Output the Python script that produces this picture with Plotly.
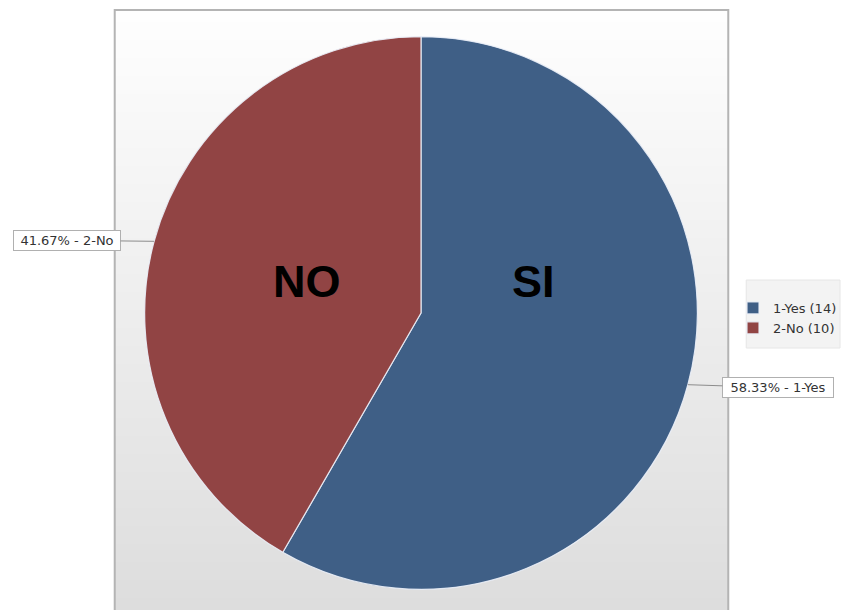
import numpy as np
import plotly.graph_objects as go

# ---- data ----
categories = ["1-Yes", "2-No"]
counts = [14, 10]
inside_text = ["SI", "NO"]
colors = ["#3f5f86", "#914444"]

total = sum(counts)
pcts = [100.0 * v / total for v in counts]
legend_labels = [f"{c} ({v})" for c, v in zip(categories, counts)]

# ---- geometry (pixels) ----
W, H = 842, 610
CX, CY, R = 422, 313, 277
FRAME = (115, 10, 730, 610)

def px_to_paper(x, y):
    return x / W, 1 - y / H

fig = go.Figure()
fig.add_trace(go.Pie(
    labels=legend_labels,
    values=counts,
    sort=False,
    direction="clockwise",
    rotation=0,
    marker=dict(colors=colors, line=dict(color="rgba(235,240,248,0.9)", width=1.2)),
    textinfo="none",
    hoverinfo="label+percent",
    domain=dict(x=[(CX - R) / W, (CX + R) / W], y=[1 - (CY + R) / H, 1 - (CY - R) / H]),
))

shapes = []
# gradient background of frame
x0, y0, x1, y1 = FRAME
nb = 100
for i in range(nb):
    t = i / (nb - 1)
    g = int(round(254 - (254 - 221) * t))
    ya = y0 + (y1 - y0) * i / nb
    yb = y0 + (y1 - y0) * (i + 1) / nb
    shapes.append(dict(type="rect", xref="paper", yref="paper", layer="below",
                       x0=x0 / W, x1=x1 / W, y0=max(0, 1 - yb / H), y1=1 - ya / H,
                       fillcolor=f"rgb({g},{g},{g})", line=dict(width=0)))
shapes.append(dict(type="rect", xref="paper", yref="paper", layer="below",
                   x0=x0 / W, x1=x1 / W, y0=-0.01, y1=1 - y0 / H,
                   fillcolor="rgba(0,0,0,0)", line=dict(color="#b4b4b4", width=2)))
# legend box
shapes.append(dict(type="rect", xref="paper", yref="paper", layer="below",
                   x0=748 / W, x1=1.0, y0=1 - 348 / H, y1=1 - 280 / H,
                   fillcolor="#f3f3f3", line=dict(color="#e6e6e6", width=1)))

annotations = []
# outside leader labels computed from slice mid angles
cum = np.cumsum([0] + counts[:-1])
offsets = {0: (90, 3), 1: (-87, -1)}
widths = {0: 108, 1: 104}
for i, (cat, v) in enumerate(zip(categories, counts)):
    mid = 2 * np.pi * (cum[i] + v / 2) / total
    ex = CX + R * np.sin(mid)
    ey = CY - R * np.cos(mid)
    ax, ay = offsets[i]
    xp, yp = px_to_paper(ex, ey)
    annotations.append(dict(
        x=xp, y=yp, xref="paper", yref="paper",
        text=f"{pcts[i]:.2f}% - {cat}", showarrow=True, arrowhead=0,
        arrowwidth=1, arrowcolor="#8c8c8c", ax=ax, ay=ay,
        width=widths[i], height=17,
        font=dict(family="DejaVu Sans", size=13, color="#333333"),
        bgcolor="white", bordercolor="#b0b0b0", borderwidth=1, borderpad=1,
    ))

# big inside labels
inside_pos = {0: (535, 281), 1: (308, 281)}
for i, t in enumerate(inside_text):
    xp, yp = px_to_paper(*inside_pos[i])
    annotations.append(dict(x=xp, y=yp, xref="paper", yref="paper", text=f"<b>{t}</b>",
                            showarrow=False,
                            font=dict(family="Liberation Sans, Arial", size=45, color="black")))

fig.update_layout(
    width=W, height=H, autosize=False,
    margin=dict(l=0, r=0, t=0, b=0),
    paper_bgcolor="white", plot_bgcolor="white",
    shapes=shapes, annotations=annotations,
    showlegend=True,
    legend=dict(x=735 / W, y=1 - 293 / H, xanchor="left", yanchor="top",
                bgcolor="rgba(0,0,0,0)", borderwidth=0,
                font=dict(family="DejaVu Sans", size=13, color="#333333"),
                tracegroupgap=0),
)

fig.write_html(
    "out.html",
    config={"displayModeBar": False},
    post_script="document.body.style.margin='0';document.body.style.overflow='hidden';",
)
